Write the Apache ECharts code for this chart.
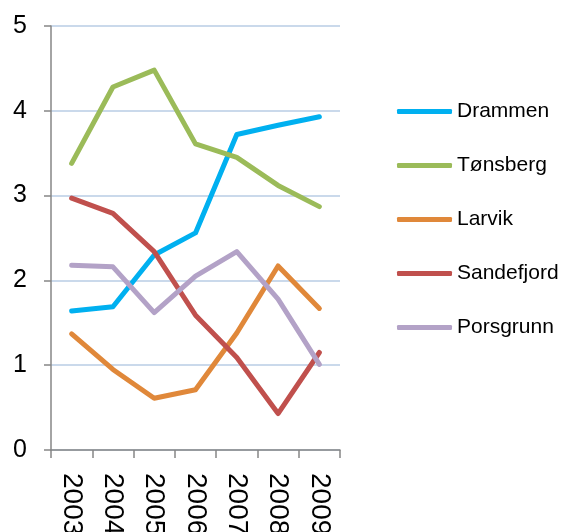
<!DOCTYPE html>
<html>
<head>
<meta charset="utf-8">
<script src="https://cdn.jsdelivr.net/npm/echarts@6/dist/echarts.min.js"></script>
<style>
  html, body { margin: 0; padding: 0; background: #fff; }
  #chart { width: 561px; height: 532px; }
</style>
</head>
<body>
<div id="chart"></div>
<script>
  let years = ['2003', '2004', '2005', '2006', '2007', '2008', '2009'];
  let drammen = [1.64, 1.69, 2.30, 2.56, 3.72, 3.83, 3.93];
  let tonsberg = [3.38, 4.28, 4.48, 3.61, 3.45, 3.12, 2.87];
  let larvik = [1.37, 0.95, 0.61, 0.71, 1.38, 2.17, 1.67];
  let sandefjord = [2.97, 2.79, 2.34, 1.59, 1.09, 0.43, 1.15];
  let porsgrunn = [2.18, 2.16, 1.62, 2.05, 2.34, 1.78, 1.01];

  let font = '"Liberation Sans", Arial, sans-serif';

  let line = (name, data, color) => ({
    name: name,
    type: 'line',
    data: data,
    symbol: 'none',
    showSymbol: false,
    smooth: false,
    lineStyle: { width: 5, color: color, cap: 'round', join: 'round' },
    itemStyle: { color: color },
  });

  let charts = echarts.init(document.getElementById('chart'));
  charts.setOption({
    animation: false,
    textStyle: { fontFamily: font },
    grid: {
      left: 51,
      right: 221,
      top: 26,
      bottom: 82,
      containLabel: false,
      outerBoundsMode: 'none',
    },
    legend: {
      orient: 'vertical',
      left: 392,
      top: 96,
      icon: 'roundRect',
      itemWidth: 55,
      itemHeight: 5,
      itemGap: 33,
      textStyle: { fontSize: 21, lineHeight: 21, color: '#000', fontFamily: font },
      data: ['Drammen', 'Tønsberg', 'Larvik', 'Sandefjord', 'Porsgrunn'],
    },
    xAxis: {
      type: 'category',
      data: years,
      boundaryGap: true,
      axisLine: { lineStyle: { color: '#868686', width: 1.5 } },
      axisTick: { show: true, length: 8, lineStyle: { color: '#868686', width: 1.5 } },
      axisLabel: {
        rotate: -90,
        margin: 23,
        fontSize: 28,
        color: '#000',
        fontFamily: font,
      },
      splitLine: { show: false },
    },
    yAxis: {
      type: 'value',
      min: 0,
      max: 5,
      interval: 1,
      axisLine: { show: true, lineStyle: { color: '#868686', width: 1.5 } },
      axisTick: { show: true, length: 7, lineStyle: { color: '#868686', width: 1.5 } },
      axisLabel: { margin: 24, fontSize: 25, color: '#000', fontFamily: font },
      splitLine: { lineStyle: { color: '#B9CDE5', width: 1.5 } },
    },
    series: [
      line('Drammen', drammen, '#00B0F0'),
      line('Tønsberg', tonsberg, '#9BBB59'),
      line('Larvik', larvik, '#E0883A'),
      line('Sandefjord', sandefjord, '#C0504D'),
      line('Porsgrunn', porsgrunn, '#B3A2C7'),
    ],
  });
</script>
</body>
</html>
